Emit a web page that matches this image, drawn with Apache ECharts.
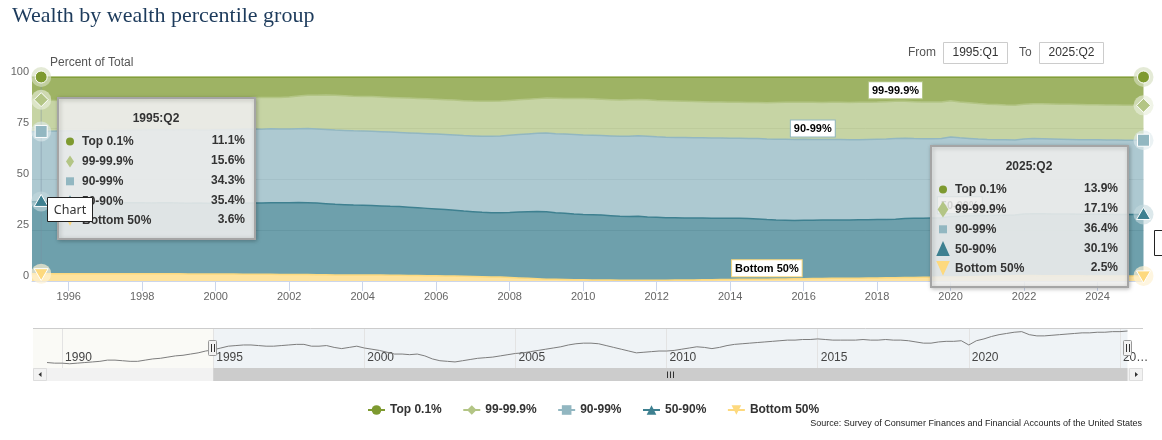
<!DOCTYPE html>
<html><head><meta charset="utf-8">
<script src="https://cdn.jsdelivr.net/npm/echarts@6/dist/echarts.min.js"></script>
<style>html,body{margin:0;padding:0;background:#fff;}#c{width:1162px;height:440px;}</style>
</head><body><div id="c"></div>
<script>
// ---------------- DATA ----------------
const seriesNames = ['Top 0.1%', '99-99.9%', '90-99%', '50-90%', 'Bottom 50%'];
const navStartQuarter = '1989:Q3';
const mainStartQuarter = '1995:Q1';
// Top 0.1% share, 1989:Q3 .. 2025:Q2 (also drawn in the navigator)
const top01 = [8.7, 8.6,
 8.6, 8.5, 8.6, 8.7,  8.8, 8.9, 9.1, 9.1,  9.0, 8.9, 8.9, 9.1,  9.3, 9.4, 9.6, 9.8,  9.9, 10.1, 10.3, 10.6,
 10.8, 11.1, 11.4, 11.5,  11.6, 11.6, 11.5, 11.4,  11.4, 11.5, 11.6, 11.7,  11.7, 11.4, 11.4, 11.5,  11.2, 11.0, 11.2, 11.4,
 11.1, 10.9, 10.7, 10.4,  10.1, 10.1, 10.0, 10.1,  9.8, 9.3, 9.0, 8.9,  8.8, 9.0, 9.2, 9.4,  9.5, 9.6, 9.8, 10.0,
 10.2, 10.3, 10.5, 10.7,  10.9, 11.1, 11.3, 11.6,  11.8, 11.9, 11.9, 11.8,  11.5, 11.2, 10.9, 10.6,  10.3, 10.4, 10.5, 10.6,
 10.6, 10.7, 10.9, 11.1,  11.3, 11.2, 11.0, 11.2,  11.5, 11.7, 11.8, 11.9,  12.0, 12.1, 12.2, 12.3,  12.4, 12.4, 12.5, 12.5,
 12.6, 12.5, 12.4, 12.4,  12.4, 12.4, 12.5, 12.4,  12.4, 12.5, 12.4, 12.4,  12.3, 12.1, 11.9, 11.9,  12.1, 12.2, 12.2, 12.3,
 11.6, 12.3, 12.6, 13.0,  13.3, 13.5, 13.7, 13.8,  13.3, 13.1, 13.1, 13.2,  13.3, 13.4, 13.5, 13.6,  13.6, 13.7, 13.7, 13.8,
 13.8, 13.9];
// 1995:Q1 .. 2025:Q2
const p99_999 = [
 16.0, 15.6, 15.2, 15.0,  14.8, 14.8, 14.8, 14.9,  14.8, 14.7, 14.6, 14.4,  14.3, 14.4, 14.5, 14.5,  14.7, 14.8, 14.8, 14.7,
 14.8, 14.9, 15.0, 15.2,  15.4, 15.5, 15.4, 15.4,  15.7, 16.1, 16.3, 16.6,  16.9, 17.0, 17.0, 17.0,  17.0, 17.0, 17.0, 17.0,
 17.0, 17.1, 17.1, 17.1,  17.1, 17.1, 17.1, 17.1,  17.1, 17.2, 17.2, 17.1,  17.0, 17.0, 17.0, 17.0,  17.2, 17.4, 17.5, 17.6,
 17.8, 17.8, 17.8, 17.8,  17.8, 17.8, 17.8, 17.8,  17.8, 17.8, 17.8, 17.8,  17.8, 17.7, 17.7, 17.6,  17.6, 17.6, 17.6, 17.7,
 17.8, 18.0, 18.1, 18.2,  18.1, 18.2, 18.1, 18.2,  18.2, 18.2, 18.3, 18.2,  18.2, 18.3, 18.3, 18.1,  18.1, 18.1, 18.1, 17.9,
 17.8, 17.5, 17.5, 17.4,  17.3, 17.2, 17.1, 17.1,  17.1, 17.1, 17.2, 17.2,  17.2, 17.2, 17.2, 17.2,  17.2, 17.2, 17.2, 17.2,
 17.2, 17.1];
const p90_99 = [
 34.3, 34.3, 34.4, 34.6,  34.7, 34.8, 34.9, 35.0,  35.2, 35.3, 35.4, 35.5,  35.7, 36.0, 35.8, 35.7,  35.9, 36.1, 35.8, 35.8,
 36.1, 36.1, 36.3, 36.3,  36.3, 36.2, 36.2, 36.2,  36.1, 36.1, 36.3, 36.3,  36.4, 36.4, 36.4, 36.4,  36.4, 36.4, 36.4, 36.4,
 36.3, 36.4, 36.5, 36.6,  36.7, 36.8, 36.9, 37.0,  37.1, 37.2, 37.4, 37.6,  37.9, 38.0, 38.1, 38.3,  38.6, 38.7, 38.8, 39.0,
 39.0, 39.0, 39.0, 39.1,  39.2, 39.4, 39.5, 39.6,  39.5, 39.5, 39.4, 39.4,  39.3, 39.3, 39.3, 39.3,  39.2, 39.3, 39.3, 39.4,
 39.5, 39.6, 39.7, 39.7,  39.7, 39.6, 39.5, 39.5,  39.5, 39.4, 39.3, 39.4,  39.4, 39.4, 39.5, 39.4,  39.1, 38.9, 38.8, 38.8,
 39.0, 38.4, 37.9, 37.5,  37.3, 37.1, 37.0, 36.8,  36.8, 36.8, 36.7, 36.7,  36.7, 36.6, 36.6, 36.5,  36.5, 36.4, 36.5, 36.4,
 36.4, 36.4];
const p50_90 = [
 35.3, 35.4, 35.4, 35.3,  35.3, 35.2, 35.3, 35.2,  35.1, 35.0, 34.9, 34.9,  34.8, 34.7, 34.8, 34.8,  34.7, 34.7, 34.8, 34.7,
 34.6, 34.7, 34.6, 34.8,  34.9, 34.9, 35.1, 35.1,  35.2, 35.3, 35.2, 35.1,  34.8, 34.6, 34.4, 34.2,  34.2, 34.1, 33.9, 33.8,
 33.7, 33.5, 33.2, 33.0,  32.7, 32.5, 32.3, 32.0,  31.8, 31.6, 31.5, 31.6,  31.9, 32.3, 32.7, 33.0,  33.0, 32.7, 32.5, 32.2,
 32.0, 32.0, 31.8, 31.5,  31.3, 31.2, 31.3, 31.0,  30.8, 30.6, 30.5, 30.4,  30.4, 30.3, 30.2, 30.1,  30.1, 29.9, 29.8, 29.5,
 29.2, 28.9, 28.8, 28.6,  28.7, 28.6, 28.7, 28.6,  28.6, 28.5, 28.6, 28.5,  28.6, 28.6, 28.7, 28.9,  29.0, 29.0, 29.1, 29.1,
 29.6, 29.8, 29.9, 29.9,  29.8, 29.8, 29.7, 29.7,  30.1, 30.3, 30.4, 30.3,  30.2, 30.2, 30.1, 30.2,  30.2, 30.2, 30.1, 30.1,
 30.1, 30.1];
const bottom50 = [
 3.6, 3.6, 3.6, 3.6,  3.6, 3.6, 3.5, 3.5,  3.5, 3.5, 3.5, 3.5,  3.5, 3.5, 3.5, 3.5,  3.5, 3.4, 3.4, 3.4,
 3.4, 3.4, 3.4, 3.3,  3.3, 3.3, 3.3, 3.2,  3.2, 3.2, 3.2, 3.1,  3.1, 3.0, 3.0, 3.0,  2.9, 2.9, 2.9, 2.8,
 2.8, 2.7, 2.7, 2.6,  2.6, 2.5, 2.4, 2.3,  2.2, 2.1, 2.0, 1.9,  1.7, 1.5, 1.3, 1.1,  0.9, 0.8, 0.7, 0.6,
 0.6, 0.5, 0.5, 0.5,  0.4, 0.4, 0.4, 0.4,  0.4, 0.4, 0.5, 0.5,  0.5, 0.6, 0.6, 0.7,  0.7, 0.8, 0.8, 0.9,
 0.9, 1.0, 1.0, 1.1,  1.1, 1.2, 1.2, 1.3,  1.3, 1.4, 1.4, 1.5,  1.5, 1.6, 1.6, 1.7,  1.7, 1.8, 1.8, 1.9,
 2.0, 2.0, 2.1, 2.2,  2.3, 2.4, 2.5, 2.6,  2.7, 2.7, 2.6, 2.6,  2.6, 2.6, 2.6, 2.5,  2.5, 2.5, 2.5, 2.5,
 2.5, 2.5];
const xTickYears = [1996, 1998, 2000, 2002, 2004, 2006, 2008, 2010, 2012, 2014, 2016, 2018, 2020, 2022, 2024];
const navTickYears = [1990, 1995, 2000, 2005, 2010, 2015, 2020, 2025];
const yTicks = [0, 25, 50, 75, 100];
const hoverQuarters = ['1995:Q2', '2025:Q2'];
const seriesLabelQuarters = [['99-99.9%', '2018:Q3'], ['90-99%', '2016:Q2'], ['Bottom 50%', '2015:Q1'], ['50-90%', '2020:Q2']];
const rangeFrom = '1995:Q1', rangeTo = '2025:Q2';
const titleText = 'Wealth by wealth percentile group';
const yAxisTitle = 'Percent of Total';
const sourceText = 'Source: Survey of Consumer Finances and Financial Accounts of the United States';

// ---------------- STYLE ----------------
const FONT = '"Liberation Sans", Arial, sans-serif';
const colors = {'Top 0.1%': '#7e9a30', '99-99.9%': '#b3c585', '90-99%': '#92b7c1', '50-90%': '#3e8090', 'Bottom 50%': '#fdd97e'};
const halo = {'Top 0.1%': 'rgba(214,222,192,0.65)', '99-99.9%': 'rgba(232,238,218,0.65)', '90-99%': 'rgba(222,234,237,0.6)', '50-90%': 'rgba(197,217,222,0.6)', 'Bottom 50%': 'rgba(254,241,210,0.7)'};
const symbols = {'Top 0.1%': ['circle', 0], '99-99.9%': ['diamond', 0], '90-99%': ['rect', 0], '50-90%': ['triangle', 0], 'Bottom 50%': ['triangle', 180]};

const qx = q => { const p = q.split(':Q'); return +p[0] + (+p[1] - 1) / 4; };
const mainStart = qx(mainStartQuarter), navStart = qx(navStartQuarter);
const qLabel = x => Math.floor(x + 1e-9) + ':Q' + (Math.round((x - Math.floor(x + 1e-9)) * 4) + 1);
const categories = p99_999.map((_, i) => qLabel(mainStart + i / 4));
const navX = top01.map((_, i) => navStart + i / 4);
const top01Main = top01.slice(Math.round((mainStart - navStart) * 4));
const data = {'Top 0.1%': top01Main, '99-99.9%': p99_999, '90-99%': p90_99, '50-90%': p50_90, 'Bottom 50%': bottom50};
const stackOrder = seriesNames.slice().reverse();
const idxOf = q => categories.indexOf(q);
const hoverIdx = hoverQuarters.map(idxOf);
const stacked = (name, i) => { let s = 0; for (const n of stackOrder) { s += data[n][i]; if (n === name) break; } return s; };
const isTick = v => v.endsWith(':Q1') && xTickYears.indexOf(+v.slice(0, 4)) >= 0;

const chart = echarts.init(document.getElementById('c'));
const series = stackOrder.map(name => ({
  name, type: 'line', stack: 'share', xAxisIndex: 0, yAxisIndex: 0,
  data: data[name],
  symbol: symbols[name][0], symbolRotate: symbols[name][1], symbolSize: 0,
  showSymbol: false,
  lineStyle: {color: colors[name], width: 1.5},
  itemStyle: {color: colors[name]},
  areaStyle: {color: colors[name], opacity: 0.75},
  emphasis: {disabled: true}, silent: true, clip: true, z: 2
}));
series.push({
  name: 'navigator', type: 'line', xAxisIndex: 1, yAxisIndex: 1,
  data: navX.map((x, i) => [x, top01[i]]), showSymbol: false,
  lineStyle: {color: '#7d7d7d', width: 1}, silent: true, z: 3
});

chart.setOption({
  animation: false,
  textStyle: {fontFamily: FONT},
  grid: [
    {left: 32, right: 18.5, top: 77, bottom: 159},
    {left: 47, right: 34.5, top: 328, height: 40}
  ],
  xAxis: [
    {type: 'category', gridIndex: 0, data: categories, boundaryGap: false,
     axisLine: {lineStyle: {color: '#ccd6eb'}},
     axisTick: {interval: (i, v) => isTick(v), length: 10, lineStyle: {color: '#ccd6eb'}},
     axisLabel: {interval: (i, v) => isTick(v), color: '#666', fontSize: 11, margin: 10, formatter: v => v.slice(0, 4)},
     splitLine: {show: false}},
    {type: 'value', gridIndex: 1, min: navStart, max: qx(rangeTo),
     axisLine: {show: false}, axisTick: {show: false, customValues: navTickYears},
     axisLabel: {customValues: navTickYears, inside: true, align: 'left', verticalAlign: 'bottom', margin: 4,
       padding: [0, 0, 0, 3], color: '#444', fontSize: 12, formatter: v => v === 2025 ? '20…' : String(v)},
     splitLine: {show: true, lineStyle: {color: '#e3e3e3'}}}
  ],
  yAxis: [
    {type: 'value', gridIndex: 0, min: yTicks[0], max: yTicks[yTicks.length - 1], interval: 25,
     axisLine: {show: false}, axisTick: {show: false},
     axisLabel: {color: '#666', fontSize: 11, margin: 3, verticalAlign: 'bottom'},
     splitLine: {lineStyle: {color: '#dcdcdc'}}},
    {type: 'value', gridIndex: 1, min: 7.8, max: 14.4, show: false, splitLine: {show: false}}
  ],
  legend: {data: seriesNames, left: 362, top: 399, itemWidth: 17, itemHeight: 12, itemGap: 20.5,
    selectedMode: false, itemStyle: {borderWidth: 0},
    textStyle: {fontFamily: FONT, fontSize: 12, fontWeight: 'bold', color: '#333'}},
  series
});

// ---------------- OVERLAYS ----------------
const P = (i, y) => chart.convertToPixel({gridIndex: 0}, [i, y]);
const N = (x, y) => chart.convertToPixel({gridIndex: 1}, [x, y]);
const g = [];
g.push({type: 'text', x: 12, y: 16, style: {text: titleText, font: '22px "Liberation Serif", serif', fill: '#1d3b5c', verticalAlign: 'middle'}});
g.push({type: 'text', x: 50, y: 63, style: {text: yAxisTitle, font: '12px ' + FONT, fill: '#555', verticalAlign: 'middle'}});
// range selector
g.push({type: 'text', x: 908, y: 52.5, style: {text: 'From', font: '12px ' + FONT, fill: '#555', verticalAlign: 'middle'}});
g.push({type: 'rect', shape: {x: 943.5, y: 42.5, width: 64, height: 21}, style: {fill: '#fff', stroke: '#ccc', lineWidth: 1}});
g.push({type: 'text', x: 975.5, y: 53, style: {text: rangeFrom, font: '12px ' + FONT, fill: '#333', align: 'center', verticalAlign: 'middle'}});
g.push({type: 'text', x: 1019, y: 52.5, style: {text: 'To', font: '12px ' + FONT, fill: '#555', verticalAlign: 'middle'}});
g.push({type: 'rect', shape: {x: 1039.5, y: 42.5, width: 64, height: 21}, style: {fill: '#fff', stroke: '#ccc', lineWidth: 1}});
g.push({type: 'text', x: 1071.5, y: 53, style: {text: rangeTo, font: '12px ' + FONT, fill: '#333', align: 'center', verticalAlign: 'middle'}});

// navigator backgrounds + scrollbar
const h1 = N(qx(rangeFrom), 0)[0], h2 = N(qx(rangeTo), 0)[0];
g.push({type: 'rect', z: -10, shape: {x: 33, y: 328, width: h1 - 33, height: 40}, style: {fill: '#fafaf6'}});
g.push({type: 'rect', z: -10, shape: {x: h1, y: 328, width: h2 - h1, height: 40}, style: {fill: '#eff3f6'}});
g.push({type: 'line', z: 5, shape: {x1: 33, y1: 328.5, x2: 1143, y2: 328.5}, style: {stroke: '#cccccc', lineWidth: 1}});
g.push({type: 'rect', z: 5, shape: {x: 33, y: 368, width: 1110, height: 13}, style: {fill: '#f2f2f2'}});
g.push({type: 'rect', z: 5, shape: {x: h1, y: 368, width: h2 - h1, height: 13}, style: {fill: '#cccccc'}});
g.push({type: 'rect', z: 6, shape: {x: 33.5, y: 368.5, width: 13, height: 12}, style: {fill: '#f2f2f2', stroke: '#ddd'}});
g.push({type: 'polygon', z: 7, shape: {points: [[38.5, 374.5], [41.5, 372], [41.5, 377]]}, style: {fill: '#333'}});
g.push({type: 'rect', z: 6, shape: {x: 1129.5, y: 368.5, width: 13, height: 12}, style: {fill: '#f2f2f2', stroke: '#ddd'}});
g.push({type: 'polygon', z: 7, shape: {points: [[1138, 374.5], [1135, 372], [1135, 377]]}, style: {fill: '#333'}});
const mid = Math.round((h1 + h2) / 2);
[-3, 0, 3].forEach(d => g.push({type: 'line', z: 7, shape: {x1: mid + d + 0.5, y1: 371.5, x2: mid + d + 0.5, y2: 378}, style: {stroke: '#333', lineWidth: 1}}));
[h1, h2].forEach(h => {
  g.push({type: 'rect', z: 8, shape: {x: Math.round(h) - 4.5, y: 340.5, width: 8, height: 15, r: 1}, style: {fill: '#f2f2f2', stroke: '#999', lineWidth: 1}});
  g.push({type: 'line', z: 9, shape: {x1: Math.round(h) - 1.5, y1: 344, x2: Math.round(h) - 1.5, y2: 352}, style: {stroke: '#333', lineWidth: 1}});
  g.push({type: 'line', z: 9, shape: {x1: Math.round(h) + 1.5, y1: 344, x2: Math.round(h) + 1.5, y2: 352}, style: {stroke: '#333', lineWidth: 1}});
});
// source
g.push({type: 'text', x: 1142, y: 424, style: {text: sourceText, font: '9px ' + FONT, fill: '#222', align: 'right', verticalAlign: 'middle'}});

// crosshair, halos and markers on hovered points
const cx = P(hoverIdx[0], 0)[0];
g.push({type: 'line', z: 3, shape: {x1: cx, y1: 77, x2: cx, y2: 281}, style: {stroke: 'rgba(120,140,160,0.45)', lineWidth: 1}});
function marker(name, x, y, z) {
  const c = colors[name], st = {fill: c, stroke: '#fff', lineWidth: 1};
  if (name === 'Top 0.1%') return {type: 'circle', z, shape: {cx: x, cy: y, r: 6}, style: st};
  if (name === '99-99.9%') return {type: 'polygon', z, shape: {points: [[x, y - 7], [x + 7, y], [x, y + 7], [x - 7, y]]}, style: st};
  if (name === '90-99%') return {type: 'rect', z, shape: {x: x - 6, y: y - 6, width: 12, height: 12}, style: st};
  if (name === '50-90%') return {type: 'polygon', z, shape: {points: [[x, y - 7], [x + 7, y + 5], [x - 7, y + 5]]}, style: st};
  return {type: 'polygon', z, shape: {points: [[x - 7, y - 5], [x + 7, y - 5], [x, y + 7]]}, style: st};
}
hoverIdx.forEach(i => seriesNames.forEach(name => {
  const p = P(i, stacked(name, i));
  g.push({type: 'circle', z: 3, shape: {cx: p[0], cy: p[1], r: 10}, style: {fill: halo[name]}});
  g.push(marker(name, p[0], p[1], 4));
}));

// series labels (data labels)
seriesLabelQuarters.forEach(([name, q]) => {
  const i = idxOf(q);
  const p = P(i, stacked(name, i));
  g.push({type: 'text', z: 20, x: p[0], y: p[1] - 3, style: {text: name, font: 'bold 11px ' + FONT, fill: '#000',
    backgroundColor: '#fff', borderColor: colors[name], borderWidth: 1, padding: [3, 3, 2, 3], align: 'center', verticalAlign: 'bottom'}});
});

// tooltips
function icon(name, x, y, big) {
  const c = colors[name];
  const s = big ? 1.35 : 1;
  if (name === 'Top 0.1%') return {type: 'circle', z: 52, shape: {cx: x, cy: y, r: 4}, style: {fill: c}};
  if (name === '99-99.9%') return {type: 'polygon', z: 52, shape: {points: [[x, y - 6 * s], [x + 4 * s, y], [x, y + 6 * s], [x - 4 * s, y]]}, style: {fill: c}};
  if (name === '90-99%') return {type: 'rect', z: 52, shape: {x: x - 4, y: y - 4, width: 8, height: 8}, style: {fill: c}};
  if (name === '50-90%') return {type: 'polygon', z: 52, shape: {points: [[x, y - 6 * s], [x + 5 * s, y + 5 * s], [x - 5 * s, y + 5 * s]]}, style: {fill: c}};
  return {type: 'polygon', z: 52, shape: {points: [[x - 5 * s, y - 6 * s], [x + 5 * s, y - 6 * s], [x, y + 5 * s]]}, style: {fill: c}};
}
function tooltip(left, top, i, big) {
  g.push({type: 'rect', z: 50, shape: {x: left, y: top, width: 197, height: 141}, style: {fill: 'rgba(246,246,244,0.86)', stroke: '#a5a5a5', lineWidth: 2, shadowBlur: 4, shadowOffsetX: 1, shadowOffsetY: 1, shadowColor: 'rgba(0,0,0,0.25)'}});
  g.push({type: 'text', z: 52, x: left + 98, y: top + 20.5, style: {text: categories[i], font: 'bold 12px ' + FONT, fill: '#333', align: 'center', verticalAlign: 'middle'}});
  seriesNames.forEach((name, k) => {
    const y = top + 43.5 + k * 19.9;
    g.push(icon(name, left + 12, y, big));
    g.push({type: 'text', z: 52, x: left + 24, y: y, style: {text: name, font: 'bold 12px ' + FONT, fill: '#333', verticalAlign: 'middle'}});
    g.push({type: 'text', z: 52, x: left + 187, y: y - 1, style: {text: data[name][i].toFixed(1) + '%', font: 'bold 12px ' + FONT, fill: '#333', align: 'right', verticalAlign: 'middle'}});
  });
}
tooltip(58, 98, hoverIdx[0], false);
tooltip(931, 146, hoverIdx[1], true);
// browser title tip and clipped tip at right edge
g.push({type: 'rect', z: 60, shape: {x: 47.5, y: 197.5, width: 45, height: 24}, style: {fill: '#fff', stroke: '#222', lineWidth: 1}});
g.push({type: 'text', z: 61, x: 70, y: 210, style: {text: 'Chart', font: '12.5px "Noto Sans", sans-serif', fill: '#333', align: 'center', verticalAlign: 'middle'}});
g.push({type: 'rect', z: 60, shape: {x: 1154.5, y: 230.5, width: 12, height: 25}, style: {fill: '#fff', stroke: '#222', lineWidth: 1}});

chart.setOption({graphic: {elements: g}});
</script></body></html>
